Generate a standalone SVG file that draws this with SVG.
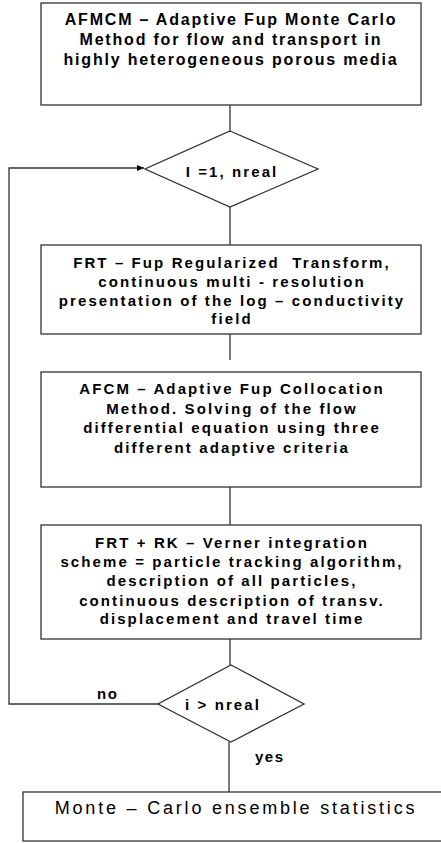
<svg xmlns="http://www.w3.org/2000/svg" width="441" height="843" viewBox="0 0 441 843">
<defs>
<style>
.box{fill:#fff;stroke:#333;stroke-width:1.3}
.ln{fill:none;stroke:#333;stroke-width:1.3}
.t{font-family:"Liberation Sans",Arial,sans-serif;font-size:15px;font-weight:bold;fill:#000;text-anchor:middle;letter-spacing:2.1px}
.t1{font-size:16px;letter-spacing:1.8px}
.lbl{font-family:"Liberation Sans",Arial,sans-serif;font-size:15px;font-weight:bold;fill:#000;letter-spacing:1.5px}
.m{font-family:"Liberation Sans",Arial,sans-serif;font-size:18px;fill:#000;text-anchor:middle;letter-spacing:2.8px}
</style>
<marker id="ah" markerWidth="8" markerHeight="8" refX="7" refY="4" orient="auto" markerUnits="userSpaceOnUse">
<path d="M0,1 L7,4 L0,7 Z" fill="#000"/>
</marker>
</defs>
<rect width="441" height="843" fill="#fff"/>
<g id="connectors">
<line class="ln" x1="230" y1="105" x2="230" y2="131"/>
<line class="ln" x1="230" y1="207" x2="230" y2="245"/>
<line class="ln" x1="230" y1="334" x2="230" y2="360"/>
<line class="ln" x1="230" y1="487" x2="230" y2="525"/>
<line class="ln" x1="230" y1="639" x2="230" y2="665"/>
<line class="ln" x1="229" y1="742" x2="229" y2="792"/>
<polyline class="ln" points="158,704 9,704 9,168 144,168" marker-end="url(#ah)"/>
<text class="lbl" x="97" y="699">no</text>
<text class="lbl" x="255" y="762">yes</text>
</g>
<g id="n1">
<rect class="box" x="41" y="3" width="380" height="102"/>
<text class="t t1" x="231" y="25">AFMCM – Adaptive Fup Monte Carlo</text>
<text class="t t1" x="231" y="45">Method for flow and transport in</text>
<text class="t t1" x="231" y="65">highly heterogeneous porous media</text>
</g>
<g id="d1">
<polygon class="box" points="230,131 318,169 230,207 145,169"/>
<text class="t" x="232" y="177">I =1, nreal</text>
</g>
<g id="n2">
<rect class="box" x="41" y="245" width="380" height="89"/>
<text class="t" x="232" y="268">FRT – Fup Regularized&#160; Transform,</text>
<text class="t" x="232" y="287">continuous multi - resolution</text>
<text class="t" x="232" y="306">presentation of the log – conductivity</text>
<text class="t" x="232" y="324">field</text>
</g>
<g id="n3">
<rect class="box" x="41" y="372" width="380" height="115"/>
<text class="t" x="232" y="394">AFCM – Adaptive Fup Collocation</text>
<text class="t" x="232" y="413.5">Method. Solving of the flow</text>
<text class="t" x="232" y="433">differential equation using three</text>
<text class="t" x="232" y="452.5">different adaptive criteria</text>
</g>
<g id="n4">
<rect class="box" x="41" y="525" width="380" height="114"/>
<text class="t" x="232" y="548">FRT + RK – Verner integration</text>
<text class="t" x="232" y="567">scheme = particle tracking algorithm,</text>
<text class="t" x="232" y="586">description of all particles,</text>
<text class="t" x="232" y="606">continuous description of transv.</text>
<text class="t" x="232" y="624">displacement and travel time</text>
</g>
<g id="d2">
<polygon class="box" points="231,665 304,704 231,742 158,704"/>
<text class="t" x="223" y="710">i &gt; nreal</text>
</g>
<g id="n5">
<rect class="box" x="23" y="792" width="430" height="49"/>
<text class="m" x="236" y="814">Monte – Carlo ensemble statistics</text>
</g>
</svg>
